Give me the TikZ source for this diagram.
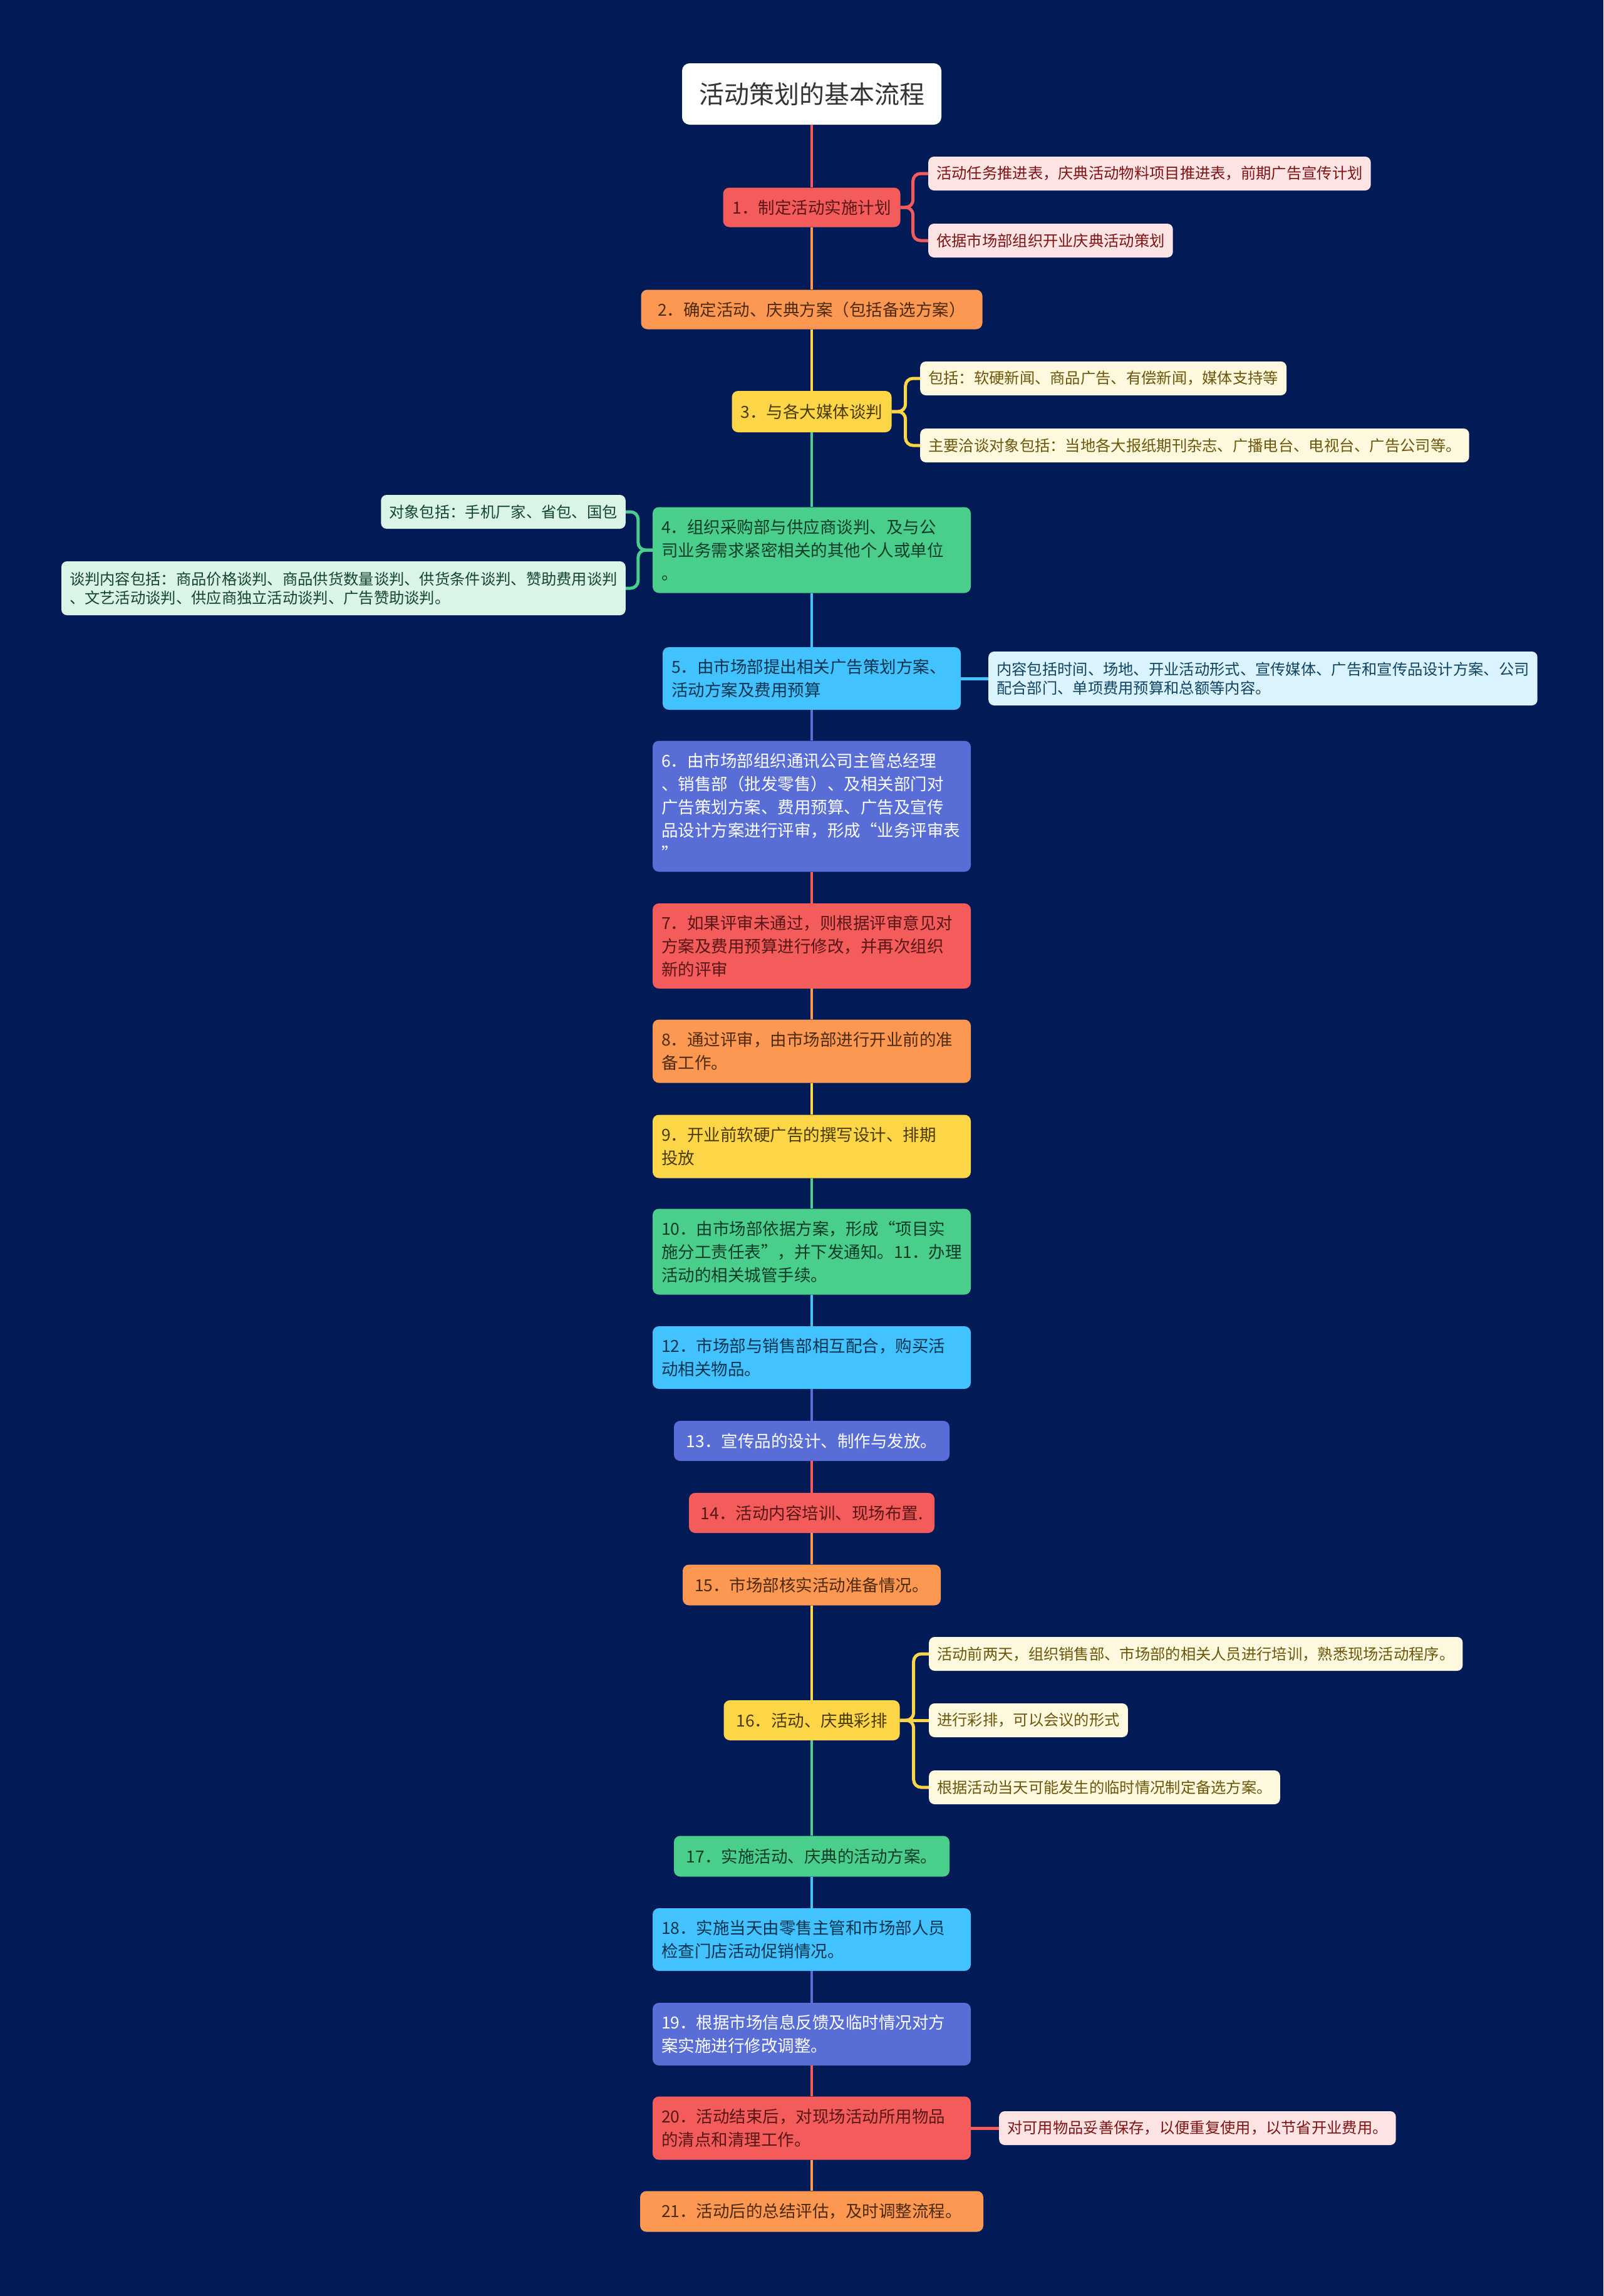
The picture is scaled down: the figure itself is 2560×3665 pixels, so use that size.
\documentclass[tikz,border=0pt]{standalone}
\usepackage{fontspec}
\setmainfont{Noto Sans CJK SC}
\usepackage{xcolor}
\usetikzlibrary{positioning}

\definecolor{bgNavy}{RGB}{2,27,87}
\definecolor{cRed}{RGB}{244,92,92}
\definecolor{cOrange}{RGB}{253,152,82}
\definecolor{cYellow}{RGB}{253,214,72}
\definecolor{cGreen}{RGB}{74,206,140}
\definecolor{cBlue}{RGB}{66,194,255}
\definecolor{cIndigo}{RGB}{88,110,214}
\definecolor{tRed}{RGB}{88,22,22}
\definecolor{tOrange}{RGB}{78,42,14}
\definecolor{tYellow}{RGB}{74,58,6}
\definecolor{tGreen}{RGB}{14,60,40}
\definecolor{tBlue}{RGB}{12,52,80}
\definecolor{tTitle}{RGB}{51,51,51}
\definecolor{sRed}{RGB}{253,228,228}
\definecolor{uRed}{RGB}{128,20,20}
\definecolor{sYellow}{RGB}{253,248,222}
\definecolor{uYellow}{RGB}{108,88,10}
\definecolor{sGreen}{RGB}{218,244,232}
\definecolor{uGreen}{RGB}{20,70,45}
\definecolor{sBlue}{RGB}{218,243,253}
\definecolor{uBlue}{RGB}{15,68,98}

\tikzset{
  mainbox/.style={rounded corners=10pt, inner xsep=14pt, inner ysep=6pt, font=\fontsize{26.5}{37}\selectfont},
  widebox/.style={mainbox, text width=480pt, align=left},
  subbox/.style={rounded corners=9pt, inner xsep=13pt, inner ysep=8pt, align=left, minimum height=54pt, font=\fontsize{24.3}{30}\selectfont},
  spine/.style={line width=4pt},
  branch/.style={line width=5pt, rounded corners=12pt},
}

\begin{document}
\begin{tikzpicture}[x=1pt, y=-1pt]
  \useasboundingbox (0,0) rectangle (2560,3665);
  \fill[bgNavy] (0,0) rectangle (2560,3665);

  % main steps
  \node[mainbox, fill=white, text=tTitle, font=\fontsize{40}{48}\selectfont, rounded corners=12pt, minimum width=414pt, minimum height=98pt] (title) at (1296,150) {活动策划的基本流程};
  \node[mainbox, fill=cRed, text=tRed, minimum width=283pt, minimum height=63pt] (n1) at (1296,331) {1．制定活动实施计划};
  \node[mainbox, fill=cOrange, text=tOrange, minimum width=545pt, minimum height=63pt] (n2) at (1296,494) {2．确定活动、庆典方案（包括备选方案）};
  \node[mainbox, fill=cYellow, text=tYellow, minimum width=255pt, minimum height=66pt] (n3) at (1296,657) {3．与各大媒体谈判};
  \node[widebox, fill=cGreen, text=tGreen, minimum height=137pt] (n4) at (1296,878) {4．组织采购部与供应商谈判、及与公\\司业务需求紧密相关的其他个人或单位\\。};
  \node[mainbox, fill=cBlue, text=tBlue, text width=448pt, align=left, minimum height=100pt] (n5) at (1296,1083) {5．由市场部提出相关广告策划方案、\\活动方案及费用预算};
  \node[widebox, fill=cIndigo, text=white, minimum height=209pt] (n6) at (1296,1287) {6．由市场部组织通讯公司主管总经理\\、销售部（批发零售）、及相关部门对\\广告策划方案、费用预算、广告及宣传\\品设计方案进行评审，形成“业务评审表\\”};
  \node[widebox, fill=cRed, text=tRed, minimum height=136pt] (n7) at (1296,1510) {7．如果评审未通过，则根据评审意见对\\方案及费用预算进行修改，并再次组织\\新的评审};
  \node[widebox, fill=cOrange, text=tOrange, minimum height=101pt] (n8) at (1296,1678) {8．通过评审，由市场部进行开业前的准\\备工作。};
  \node[widebox, fill=cYellow, text=tYellow, minimum height=101pt] (n9) at (1296,1830) {9．开业前软硬广告的撰写设计、排期\\投放};
  \node[widebox, fill=cGreen, text=tGreen, minimum height=137pt] (n10) at (1296,1998) {10．由市场部依据方案，形成“项目实\\施分工责任表”，并下发通知。11．办理\\活动的相关城管手续。};
  \node[widebox, fill=cBlue, text=tBlue, minimum height=100pt] (n12) at (1296,2167) {12．市场部与销售部相互配合，购买活\\动相关物品。};
  \node[mainbox, fill=cIndigo, text=white, minimum width=440pt, minimum height=64pt] (n13) at (1296,2300) {13．宣传品的设计、制作与发放。};
  \node[mainbox, fill=cRed, text=tRed, minimum width=392pt, minimum height=64pt] (n14) at (1296,2415) {14．活动内容培训、现场布置.};
  \node[mainbox, fill=cOrange, text=tOrange, minimum width=412pt, minimum height=65pt] (n15) at (1296,2530) {15．市场部核实活动准备情况。};
  \node[mainbox, fill=cYellow, text=tYellow, minimum width=281pt, minimum height=64pt] (n16) at (1296,2746) {16．活动、庆典彩排};
  \node[mainbox, fill=cGreen, text=tGreen, minimum width=440pt, minimum height=65pt] (n17) at (1296,2963) {17．实施活动、庆典的活动方案。};
  \node[widebox, fill=cBlue, text=tBlue, minimum height=100pt] (n18) at (1296,3096) {18．实施当天由零售主管和市场部人员\\检查门店活动促销情况。};
  \node[widebox, fill=cIndigo, text=white, minimum height=100pt] (n19) at (1296,3247) {19．根据市场信息反馈及临时情况对方\\案实施进行修改调整。};
  \node[widebox, fill=cRed, text=tRed, minimum height=101pt] (n20) at (1296,3397) {20．活动结束后，对现场活动所用物品\\的清点和清理工作。};
  \node[mainbox, fill=cOrange, text=tOrange, minimum width=548pt, minimum height=65pt] (n21) at (1296,3530) {21．活动后的总结评估，及时调整流程。};

  \foreach \a/\b/\c in {title/n1/cRed, n1/n2/cOrange, n2/n3/cYellow, n3/n4/cGreen, n4/n5/cBlue, n5/n6/cIndigo, n6/n7/cRed, n7/n8/cOrange, n8/n9/cYellow, n9/n10/cGreen, n10/n12/cBlue, n12/n13/cIndigo, n13/n14/cRed, n14/n15/cOrange, n15/n16/cYellow, n16/n17/cGreen, n17/n18/cBlue, n18/n19/cIndigo, n19/n20/cRed, n20/n21/cOrange}
    \draw[spine, \c] (\a.south) -- (\b.north);

  % details
  \node[subbox, fill=sRed, text=uRed, anchor=west] (n1a) at (1482,277) {活动任务推进表，庆典活动物料项目推进表，前期广告宣传计划};
  \node[subbox, fill=sRed, text=uRed, anchor=west] (n1b) at (1482,384) {依据市场部组织开业庆典活动策划};
  \node[subbox, fill=sYellow, text=uYellow, anchor=west] (n3a) at (1469,604) {包括：软硬新闻、商品广告、有偿新闻，媒体支持等};
  \node[subbox, fill=sYellow, text=uYellow, anchor=west] (n3b) at (1469,711) {主要洽谈对象包括：当地各大报纸期刊杂志、广播电台、电视台、广告公司等。};
  \node[subbox, fill=sGreen, text=uGreen, anchor=east] (n4a) at (999,817) {对象包括：手机厂家、省包、国包};
  \node[subbox, fill=sGreen, text=uGreen, anchor=east, minimum height=86pt] (n4b) at (999,939) {谈判内容包括：商品价格谈判、商品供货数量谈判、供货条件谈判、赞助费用谈判\\、文艺活动谈判、供应商独立活动谈判、广告赞助谈判。};
  \node[subbox, fill=sBlue, text=uBlue, anchor=west, minimum height=86pt] (n5a) at (1578,1083) {内容包括时间、场地、开业活动形式、宣传媒体、广告和宣传品设计方案、公司\\配合部门、单项费用预算和总额等内容。};
  \node[subbox, fill=sYellow, text=uYellow, anchor=west] (n16a) at (1483,2640) {活动前两天，组织销售部、市场部的相关人员进行培训，熟悉现场活动程序。};
  \node[subbox, fill=sYellow, text=uYellow, anchor=west] (n16b) at (1483,2746) {进行彩排，可以会议的形式};
  \node[subbox, fill=sYellow, text=uYellow, anchor=west] (n16c) at (1483,2853) {根据活动当天可能发生的临时情况制定备选方案。};
  \node[subbox, fill=sRed, text=uRed, anchor=west] (n20a) at (1595,3397) {对可用物品妥善保存，以便重复使用，以节省开业费用。};

  \draw[branch, cRed] (n1.east) -- ++(20,0) |- (n1a.west);
  \draw[branch, cRed] (n1.east) -- ++(20,0) |- (n1b.west);
  \draw[branch, cYellow] (n3.east) -- ++(22,0) |- (n3a.west);
  \draw[branch, cYellow] (n3.east) -- ++(22,0) |- (n3b.west);
  \draw[branch, cGreen] (n4.west) -- ++(-23,0) |- (n4a.east);
  \draw[branch, cGreen] (n4.west) -- ++(-23,0) |- (n4b.east);
  \draw[branch, cBlue] (n5.east) -- (n5a.west);
  \draw[branch, cYellow] (n16.east) -- ++(22,0) |- (n16a.west);
  \draw[branch, cYellow] (n16.east) -- (n16b.west);
  \draw[branch, cYellow] (n16.east) -- ++(22,0) |- (n16c.west);
  \draw[branch, cRed] (n20.east) -- (n20a.west);
\end{tikzpicture}
\end{document}
